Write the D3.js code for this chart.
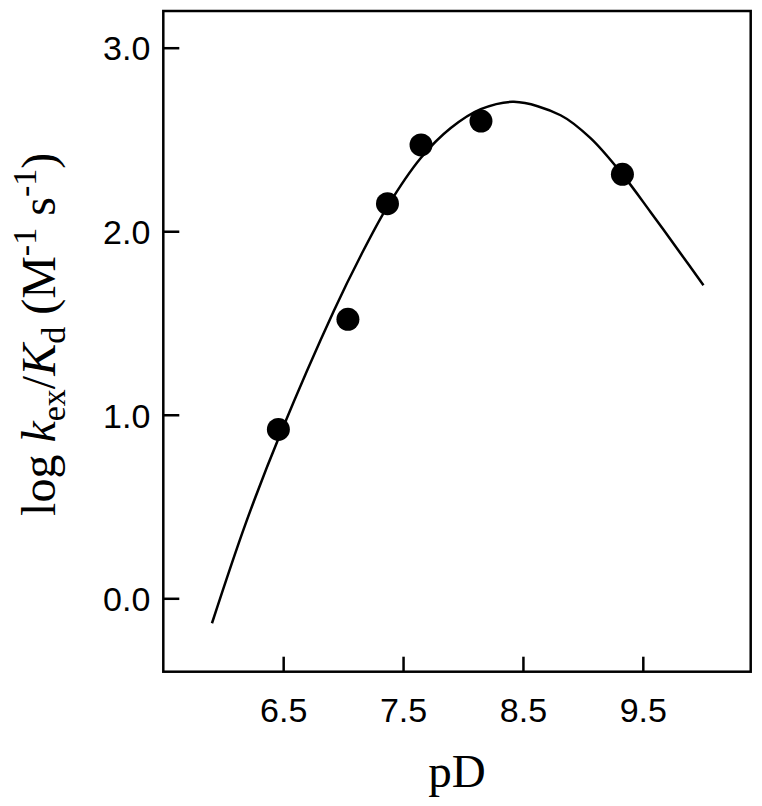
<!DOCTYPE html>
<html>
<head>
<meta charset="utf-8">
<script src="https://cdn.jsdelivr.net/npm/d3@7"></script>
<style>
  body { margin: 0; background: #fff; }
  svg { display: block; }
</style>
</head>
<body>
<div id="chart"></div>
<script>
// measured points (pD, log kex/Kd)
const pD = [6.46, 7.04, 7.37, 7.65, 8.15, 9.33];
const logK = [0.92, 1.52, 2.15, 2.47, 2.60, 2.31];

// fitted curve
const curvePD = [5.906, 6.189, 6.481, 6.923, 7.148, 7.372, 7.648, 7.898, 8.148, 8.425, 8.814, 9.064, 9.333, 9.564, 9.814, 10.006];
const curveLogK = [-0.136, 0.411, 0.903, 1.567, 1.868, 2.137, 2.399, 2.562, 2.665, 2.705, 2.632, 2.507, 2.307, 2.105, 1.880, 1.706];

const xTicks = [6.5, 7.5, 8.5, 9.5];
const yTicks = [0, 1, 2, 3];

const width = 762, height = 806;
const margin = { top: 11, right: 11.3, bottom: 134.3, left: 163.3 };
const innerW = width - margin.left - margin.right;
const innerH = height - margin.top - margin.bottom;

const svg = d3.select('#chart').append('svg')
    .attr('width', width)
    .attr('height', height);

const g = svg.append('g')
    .attr('transform', `translate(${margin.left},${margin.top})`);

const x = d3.scaleLinear().domain([5.5, 10.4]).range([0, innerW]);
const y = d3.scaleLinear().domain([-0.4, 3.2]).range([innerH, 0]);

// axes with inward ticks
const xAxis = d3.axisBottom(x).tickValues(xTicks).tickSize(-15).tickPadding(26)
    .tickFormat(d3.format('.1f'));
const yAxis = d3.axisLeft(y).tickValues(yTicks).tickSize(-16).tickPadding(13)
    .tickFormat(d3.format('.1f'));

const gx = g.append('g').attr('transform', `translate(0,${innerH})`).call(xAxis);
const gy = g.append('g').call(yAxis);

[gx, gy].forEach(a => {
    a.select('.domain').remove();
    a.selectAll('.tick line').attr('stroke', '#000').attr('stroke-width', 2.5);
    a.selectAll('.tick text')
        .attr('fill', '#000')
        .style('font-family', '"Liberation Sans", Arial, sans-serif')
        .style('font-size', '34px');
});
gx.selectAll('.tick text').attr('dy', '0.71em');
gy.selectAll('.tick text').attr('dy', '0.36em');

// frame
g.append('rect')
    .attr('width', innerW).attr('height', innerH)
    .attr('fill', 'none').attr('stroke', '#000').attr('stroke-width', 2.5);

// fitted curve
const line = d3.line()
    .x((d, i) => x(curvePD[i]))
    .y((d, i) => y(curveLogK[i]))
    .curve(d3.curveCatmullRom.alpha(0.5));

g.append('path')
    .datum(curvePD)
    .attr('d', line)
    .attr('fill', 'none')
    .attr('stroke', '#000')
    .attr('stroke-width', 2.5);

// data points
g.selectAll('circle.pt')
    .data(pD)
    .enter().append('circle')
    .attr('class', 'pt')
    .attr('cx', d => x(d))
    .attr('cy', (d, i) => y(logK[i]))
    .attr('r', 11.5)
    .attr('fill', '#000');

// axis titles
const serif = '"Liberation Serif", "Times New Roman", serif';

svg.append('text')
    .attr('x', margin.left + innerW / 2)
    .attr('y', 787)
    .attr('text-anchor', 'middle')
    .style('font-family', serif)
    .style('font-size', '47px')
    .text('pD');

const yt = svg.append('text')
    .attr('transform', `translate(55,${margin.top + innerH / 2 - 7}) rotate(-90)`)
    .attr('text-anchor', 'middle')
    .style('font-family', serif)
    .style('font-size', '48px');
yt.append('tspan').text('log ');
yt.append('tspan').style('font-style', 'italic').text('k');
yt.append('tspan').attr('dy', 10).style('font-size', '34px').text('ex');
yt.append('tspan').attr('dy', -10).text('/');
yt.append('tspan').style('font-style', 'italic').text('K');
yt.append('tspan').attr('dy', 10).style('font-size', '34px').text('d');
yt.append('tspan').attr('dy', -10).text(' (M');
yt.append('tspan').attr('dy', -19).style('font-size', '34px').text('-1');
yt.append('tspan').attr('dy', 19).text(' s');
yt.append('tspan').attr('dy', -19).style('font-size', '34px').text('-1');
yt.append('tspan').attr('dy', 19).text(')');
</script>
</body>
</html>
